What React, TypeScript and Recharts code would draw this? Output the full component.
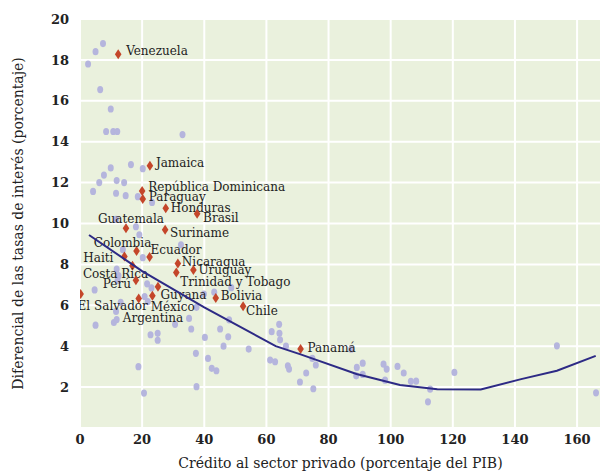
import React from 'react';
import { ScatterChart, Scatter, XAxis, YAxis, CartesianGrid } from 'recharts';

// countries named on the chart
const labeledNames = [
  'Venezuela', 'Jamaica', 'República Dominicana', 'Paraguay', 'Honduras', 'Brasil',
  'Guatemala', 'Suriname', 'Colombia', 'Ecuador', 'Haiti', 'Nicaragua', 'Uruguay',
  'Costa Rica', 'Perú', 'Trinidad y Tobago', 'Guyana', 'Bolivia', 'El Salvador',
  'México', 'Argentina', 'Chile', 'Panamá',
];
const labeledCredit = [
  12.3, 22.5, 20.0, 20.2, 27.6, 37.7,
  14.8, 27.4, 18.2, 22.4, 14.3, 31.5, 36.5,
  16.9, 18.0, 31.0, 23.3, 43.7, 0.2,
  18.9, 25.1, 52.5, 71.0,
];
const labeledSpread = [
  18.28, 12.83, 11.59, 11.2, 10.74, 10.48,
  9.77, 9.7, 8.66, 8.36, 8.39, 8.05, 7.73,
  7.94, 7.23, 7.6, 6.47, 6.36, 6.55,
  6.33, 6.91, 5.95, 3.86,
];

// rest of the world
const otherCredit = [
  2.6, 5.0, 7.4, 6.5, 9.9, 8.4, 10.7, 12.0, 33.0, 9.9,
  16.4, 20.2, 7.7, 6.2, 4.2, 11.8, 14.2, 11.6, 14.7, 18.6,
  23.2, 11.6, 18.0, 19.1, 32.5, 13.8, 20.2, 11.8, 12.4, 12.1,
  21.6, 23.0, 4.7, 20.8, 21.8, 13.1, 11.6, 10.9, 11.8, 5.0,
  22.7, 25.0, 25.0, 18.8, 20.6, 30.6, 35.1, 35.8, 37.3, 37.5,
  37.5, 39.9, 43.2, 48.7, 40.2, 41.2, 42.4, 43.9, 45.1, 46.2,
  47.7, 48.0, 54.3, 61.2, 62.8, 61.7, 64.1, 64.2, 64.4, 66.3,
  66.9, 67.3, 72.8, 70.8, 75.1, 74.8, 75.9, 87.3, 89.1, 91.0,
  88.9, 91.0, 97.7, 98.7, 98.2, 102.2, 104.2, 106.5, 108.2, 112.7,
  112.0, 120.5, 153.5, 166.1,
];
const otherSpread = [
  17.8, 18.4, 18.8, 16.55, 15.6, 14.5, 14.5, 14.5, 14.35, 12.72,
  12.88, 12.68, 12.37, 12.0, 11.57, 12.1, 12.0, 11.48, 11.36, 11.31,
  11.03, 10.2, 9.84, 9.45, 8.96, 8.72, 8.33, 7.77, 7.45, 7.21,
  7.05, 6.85, 6.75, 6.43, 6.18, 6.14, 5.7, 5.16, 5.3, 5.03,
  4.56, 4.63, 4.29, 3.0, 1.71, 5.07, 5.36, 4.84, 3.65, 2.02,
  5.9, 6.55, 6.64, 6.86, 4.43, 3.4, 2.92, 2.8, 4.84, 4.0,
  4.46, 5.29, 3.86, 3.32, 3.24, 4.71, 5.07, 4.63, 4.31, 4.0,
  3.04, 2.88, 2.69, 2.25, 1.92, 3.4, 3.08, 3.85, 2.96, 3.17,
  2.55, 2.62, 3.12, 2.88, 2.34, 3.01, 2.69, 2.28, 2.29, 1.9,
  1.28, 2.72, 4.02, 1.72,
];

// fitted curve
const fitCredit = [2.9, 20, 40, 63, 71, 89, 103, 115, 129, 142, 153.5, 166];
const fitSpread = [9.44, 7.67, 5.9, 4.0, 3.6, 2.64, 2.1, 1.9, 1.88, 2.39, 2.8, 3.53];

const xTicks = [0, 20, 40, 60, 80, 100, 120, 140, 160];
const yTicks = [2, 4, 6, 8, 10, 12, 14, 16, 18, 20];

const labelPlacement: Record<string, { dx: number; dy: number; anchor: 'start' | 'middle' | 'end' }> = {
  'Venezuela': { dx: 8, dy: -3, anchor: 'start' },
  'Jamaica': { dx: 6, dy: -3, anchor: 'start' },
  'República Dominicana': { dx: 6, dy: -4, anchor: 'start' },
  'Paraguay': { dx: 6, dy: -1.5, anchor: 'start' },
  'Honduras': { dx: 5, dy: 0, anchor: 'start' },
  'Brasil': { dx: 6, dy: 4, anchor: 'start' },
  'Guatemala': { dx: 5, dy: -9.5, anchor: 'middle' },
  'Suriname': { dx: 5, dy: 3, anchor: 'start' },
  'Colombia': { dx: -14, dy: -8, anchor: 'middle' },
  'Ecuador': { dx: 1, dy: -7, anchor: 'start' },
  'Haiti': { dx: -11, dy: 2, anchor: 'end' },
  'Nicaragua': { dx: 4, dy: -1, anchor: 'start' },
  'Uruguay': { dx: 5, dy: 0, anchor: 'start' },
  'Costa Rica': { dx: -17, dy: 8, anchor: 'middle' },
  'Perú': { dx: -5, dy: 4, anchor: 'end' },
  'Trinidad y Tobago': { dx: 4, dy: 9, anchor: 'start' },
  'Guyana': { dx: 8, dy: -0.5, anchor: 'start' },
  'Bolivia': { dx: 5, dy: -1.5, anchor: 'start' },
  'El Salvador': { dx: -3, dy: 12, anchor: 'start' },
  'México': { dx: 12, dy: 8.5, anchor: 'start' },
  'Argentina': { dx: -5, dy: 31, anchor: 'middle' },
  'Chile': { dx: 3, dy: 5, anchor: 'start' },
  'Panamá': { dx: 7, dy: -1, anchor: 'start' },
};

const labeled = labeledNames.map((name, i) => ({ name, x: labeledCredit[i], y: labeledSpread[i] }));
const others = otherCredit.map((x, i) => ({ x, y: otherSpread[i] }));
const fit = fitCredit.map((x, i) => ({ x, y: fitSpread[i] }));

const SERIF = '"DejaVu Serif", serif';

const Dot = (props: any) => {
  const { cx, cy } = props;
  return <ellipse cx={cx} cy={cy} rx={3} ry={3.6} fill="#B5B5DD" />;
};

const Diamond = (props: any) => {
  const { cx, cy, payload } = props;
  const p = labelPlacement[payload.name];
  return (
    <g>
      <path d={`M${cx},${cy - 5} L${cx + 3.3},${cy} L${cx},${cy + 5} L${cx - 3.3},${cy} Z`} fill="#C4462A" />
      <text x={cx + p.dx} y={cy + p.dy} textAnchor={p.anchor} dominantBaseline="central"
        fontSize={12} fill="#222" fontFamily={SERIF}>{payload.name}</text>
    </g>
  );
};

const YTitle = (props: any) => {
  const { viewBox } = props;
  const cx = 18;
  const cy = viewBox.y + viewBox.height / 2;
  return (
    <text x={cx} y={cy} transform={`rotate(-90 ${cx} ${cy})`} textAnchor="middle" dominantBaseline="central"
      fontSize={14} fill="#222" fontFamily={SERIF}>
      Diferencial de las tasas de interés (porcentaje)
    </text>
  );
};

const XTitle = (props: any) => {
  const { viewBox } = props;
  const cx = viewBox.x + viewBox.width / 2;
  return (
    <text x={cx} y={463} textAnchor="middle" dominantBaseline="central" fontSize={14} fill="#222" fontFamily={SERIF}>
      Crédito al sector privado (porcentaje del PIB)
    </text>
  );
};

const tickStyle = { fill: '#222', fontSize: 13, fontWeight: 'bold', fontFamily: SERIF };

export default function App() {
  return (
    <div>
      <style>{'body{margin:0;background:#fff}'}</style>
      <ScatterChart width={603} height={474} margin={{ top: 19, right: 2, bottom: 0, left: 0 }}>
        <CartesianGrid fill="#EAF1DD" stroke="#fff" strokeWidth={2} />
        <XAxis type="number" dataKey="x" domain={[0, 167.7]} ticks={xTicks} allowDataOverflow
          axisLine={false} tickLine={false} tickSize={0} tickMargin={7} height={46} tick={tickStyle}
          label={<XTitle />} />
        <YAxis type="number" dataKey="y" domain={[0, 20]} ticks={yTicks} allowDataOverflow
          axisLine={false} tickLine={false} tickSize={0} tickMargin={11} width={80} tick={tickStyle}
          label={<YTitle />} />
        <Scatter data={others} shape={<Dot />} isAnimationActive={false} />
        <Scatter data={labeled} shape={<Diamond />} isAnimationActive={false} />
        <Scatter data={fit} shape={() => <g />} line={{ stroke: '#2D2A85', strokeWidth: 2 }} lineType="joint"
          isAnimationActive={false} />
      </ScatterChart>
    </div>
  );
}
